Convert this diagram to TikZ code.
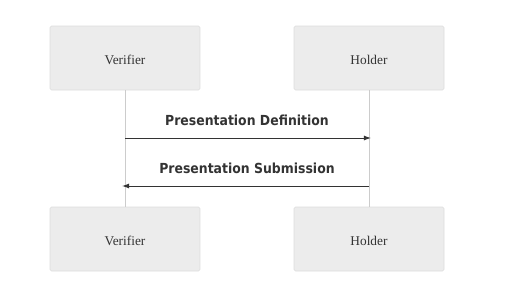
\documentclass[tikz,border=0pt]{standalone}
\usepackage{fontspec}
\setmainfont{Liberation Serif}
\newfontfamily\msgfont{DejaVu Sans Condensed}
\usetikzlibrary{arrows.meta,positioning,calc}
\definecolor{actorfill}{HTML}{ECECEC}
\definecolor{actorline}{HTML}{DDDDDD}
\definecolor{lifeline}{HTML}{CCCCCC}
\definecolor{msgline}{HTML}{333333}

\begin{document}
\begin{tikzpicture}[x=0.05cm,y=-0.05cm,
  actor/.style={draw=actorline,fill=actorfill,rounded corners=2pt,line width=0.8pt,
    minimum width=7.5cm,minimum height=3.2cm,text height=18pt,text=msgline,font=\fontsize{19}{22}\selectfont},
  msg/.style={draw=msgline,line width=1.3pt,-{Latex[length=10pt,width=7pt]}},
  msglabel/.style={text=msgline,font=\msgfont\bfseries\fontsize{19.7}{24}\selectfont}]
\useasboundingbox (0,0) rectangle (507,289);
\node[actor] (vtop) at (125,58) {Verifier};
\node[actor] (htop) at (369,58) {Holder};
\node[actor] (vbot) at (125,239) {Verifier};
\node[actor] (hbot) at (369,239) {Holder};
% lifelines
\draw[lifeline,line width=1pt] (vtop) -- (vbot);
\draw[lifeline,line width=1pt] (htop) -- (hbot);
% messages
\coordinate (d1) at (125,138);
\coordinate (d2) at (371,138);
\coordinate (s1) at (369,186);
\coordinate (s2) at (122,186);
\draw[msg] (d1) -- (d2);
\node[msglabel] (deflabel) at (247,120) {Presentation Definition};
\draw[msg] (s1) -- (s2);
\node[msglabel] (sublabel) at (247,168) {Presentation Submission};
\end{tikzpicture}
\end{document}
